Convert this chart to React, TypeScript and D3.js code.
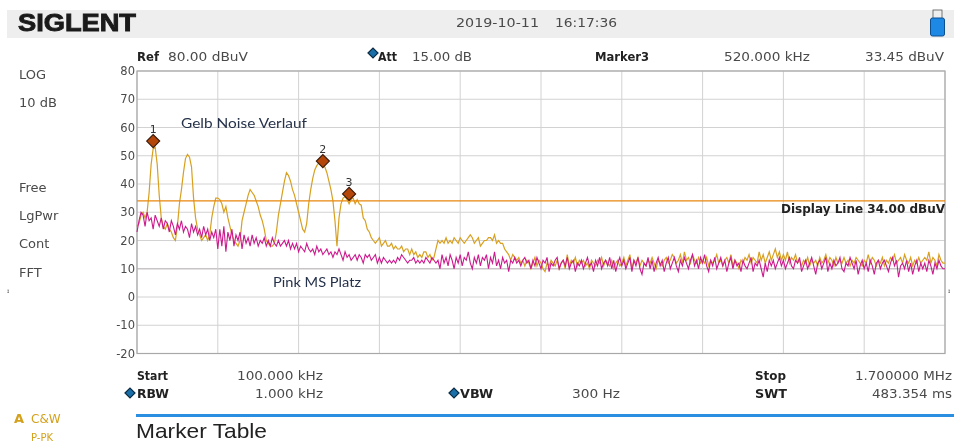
import React from "react";
import * as d3 from "d3";

const W = 954, H = 444;
const startKHz = 100, stopKHz = 1700, stepKHz = 4;
const levelTicks = [80, 70, 60, 50, 40, 30, 20, 10, 0, -10, -20];
const displayLine = 34;

const yellowTrace = [
  25,26,29,30,28,30,37,47,52.5,53,
  47,36,28,25,24,26,24,23,21,20,
  25,33,38,44,49,50.5,49.5,46,35,28,
  24,22,20,21,22,20,22,28,32,35,
  35,34.5,33,30,32,28,25,22,20,19,
  18,20,27,30,33,36,38,37,36,34,
  32,29,27,24,20,19,18,18,19,23,
  29,33,37,41,44,43,41,38,36,33,
  30,27,24,23,26,33,38,42,45,46.5,
  47.5,47.5,47,46,44,41,38,34,27,18,
  28,33,35,35.5,34.5,33,34.5,35,33,34.5,
  33,32.5,28,27,24,23,21,20,19,20,
  21,18,19,20,18,18,19,17,18,17,
  17,18,16,17,17,15,17,15,16,14,
  15,14,16,16,14,15,13,14,17,20,
  19,20,19,21,19,20,19,21,20,19,
  21,20,19,20,21,22,21,19,20,21,
  18,19,20,20,21,21,20,22,19,20,
  19,19,17,16,15,13,15,14,13,14,
  12,13,11,13,12,10,12,14,11,13,
  12,10,9,12,11,13,12,11,13,10,
  12,13,10,15,11,13,12,14,11,13,
  12,13,11,12,10,13,12,11,13,12,
  14,11,13,12,11,13,10,12,13,11,
  12,14,11,13,15,10,13,12,14,11,
  13,12,11,13,12,14,12,10,13,12,
  11,13,14,12,13,15,14,12,13,15,
  12,16,13,14,12,15,13,12,14,12,
  13,12,14,11,13,12,13,15,12,13,
  11,13,14,12,15,11,13,12,10,13,
  12,14,13,15,12,14,13,12,16,13,
  15,12,14,16,13,15,17,14,16,13,
  15,13,16,12,14,13,15,12,13,11,
  13,12,14,11,13,12,13,11,14,12,
  13,15,12,14,13,11,14,12,13,12,
  14,12,13,11,13,12,14,13,12,11,
  13,12,15,12,14,13,11,13,12,14,
  11,13,12,14,13,15,12,13,14,12,
  15,13,12,14,11,13,12,14,12,13,
  14,13,16,12,14,13,11,15,13,12,
  12
];

const pinkTrace = [
  23,27,30,29,25,30,27,28,24,29,
  27,25,28,24,27,26,23,27,25,22,
  26,24,27,23,25,24,21,26,23,25,
  22,24,21,25,22,24,20,23,21,24,
  17,24,18,25,16,23,20,24,18,22,
  20,23,17,22,19,21,18,22,19,21,
  18,20,19,21,18,20,18,21,19,18,
  20,18,19,20,18,20,17,19,17,19,
  16,18,17,16,19,17,16,17,15,18,
  16,17,15,16,17,15,16,14,16,15,
  17,15,13,16,14,15,13,14,15,13,
  15,14,12,15,14,15,13,14,15,12,
  14,12,14,13,12,13,12,13,12,14,
  13,15,14,13,12,13,13,14,12,13,
  12,13,12,14,13,12,14,13,12,13,
  10,15,12,14,11,15,13,10,14,12,
  15,11,14,13,16,12,10,14,12,15,
  11,14,13,15,10,14,12,16,11,13,
  10,14,12,13,9,13,12,14,12,13,
  11,13,14,12,13,10,13,11,14,12,
  10,13,12,14,9,12,11,13,14,10,
  12,13,11,14,10,12,13,9,12,11,
  13,10,12,14,11,12,9,13,11,14,
  10,12,13,11,14,10,13,9,12,14,
  11,13,10,12,14,9,13,11,14,10,
  8,12,11,14,10,13,9,12,14,11,
  13,9,12,14,10,12,14,11,9,13,
  11,14,12,10,13,15,11,13,10,14,
  12,15,11,9,13,11,14,10,12,14,
  11,13,9,12,14,10,13,11,12,9,
  13,11,10,12,14,9,12,11,13,10,
  7,12,9,13,11,13,10,12,14,11,
  13,10,12,14,11,10,13,12,14,9,
  11,13,10,12,14,11,8,12,13,10,
  12,14,9,12,10,13,11,12,14,10,
  9,12,11,14,12,10,13,8,11,13,
  10,12,9,13,11,8,12,13,10,12,
  13,11,9,12,14,11,13,7,11,12,
  10,13,9,12,8,11,13,9,12,10,
  12,9,13,11,8,12,10,13,11,10,
  10
];

const markerFreqs = [132, 468, 520];
const markerLevels = [55.2, 48.1, 36.5];
const markerLabels = ["1", "2", "3"];
const leftLabels = ["LOG", "10 dB", "Free", "LgPwr", "Cont", "FFT"];
const leftLabelY = [79, 107, 192, 220, 248, 277];

const x = d3.scaleLinear().domain([startKHz, stopKHz]).range([137, 945]);
const y = d3.scaleLinear().domain([-20, 80]).range([353.5, 71]);
const freqGrid = d3.range(startKHz, stopKHz + 1, 160);
const traceLine = d3.line<number>().x((_, i) => x(startKHz + i * stepKHz)).y((v) => y(v));

const MONO = "'DejaVu Sans', sans-serif";
const grey = "#4a4a4a";

function Label({ x: px, y: py, width, bold, size = 12, fill, anchor, family, children }: any) {
  return (
    <text
      x={px}
      y={py}
      fontFamily={family || MONO}
      fontSize={size}
      fontWeight={bold ? 700 : 400}
      fill={fill || (bold ? "#222" : grey)}
      textLength={width}
      lengthAdjust={width ? "spacingAndGlyphs" : undefined}
      textAnchor={anchor}
    >
      {children}
    </text>
  );
}

function Diamond({ cx, cy, r = 6, fill = "#1a6fa8", stroke = "#0c2c44" }: any) {
  return <path d={`M${cx - r},${cy}L${cx},${cy - r}L${cx + r},${cy}L${cx},${cy + r}Z`} fill={fill} stroke={stroke} strokeWidth={1.2} />;
}

export default function App() {
  return (
    <svg width={W} height={H} viewBox={`0 0 ${W} ${H}`} style={{ position: "fixed", left: 0, top: 0, background: "#fff", filter: "blur(0.3px)" }}>
      <rect x={7} y={10} width={947} height={28} fill="#eeeeee" />
      <text x={18} y={31} fontFamily="'Liberation Sans', sans-serif" fontWeight={700} fontSize={24} fill="#1a1a1a" stroke="#1a1a1a" strokeWidth={0.9} textLength={118} lengthAdjust="spacingAndGlyphs">SIGLENT</text>
      <Label x={456} y={27} width={83}>2019-10-11</Label>
      <Label x={555} y={27} width={62}>16:17:36</Label>
      <rect x={933} y={10} width={9} height={9} fill="none" stroke="#555" strokeWidth={0.8} />
      <rect x={930.5} y={18} width={14} height={18} rx={2} fill="#1e88e5" stroke="#0d4f8f" />

      <Label x={137} y={61} width={22} bold>Ref</Label>
      <Label x={168} y={61} width={80}>80.00 dBuV</Label>
      <Diamond cx={373} cy={53} r={5} />
      <Label x={378} y={61} width={19} bold>Att</Label>
      <Label x={412} y={61} width={60}>15.00 dB</Label>
      <Label x={595} y={61} width={54} bold>Marker3</Label>
      <Label x={724} y={61} width={86}>520.000 kHz</Label>
      <Label x={865} y={61} width={79}>33.45 dBuV</Label>

      {leftLabels.map((t, i) => (
        <text key={t} x={19} y={leftLabelY[i]} fontFamily={MONO} fontSize={13} fill={grey}>{t}</text>
      ))}
      <text x={7} y={293} fontFamily={MONO} fontSize={6} fill={grey}>ɪ</text>
      <text x={948} y={293} fontFamily={MONO} fontSize={6} fill={grey}>ɪ</text>

      {levelTicks.map((v) => (
        <g key={v}>
          <line x1={x(startKHz)} x2={x(stopKHz)} y1={y(v)} y2={y(v)} stroke={v === 10 ? "#c9c4c8" : "#d2d2d2"} strokeWidth={v === 10 ? 1.6 : 1} />
          <text x={135} y={y(v) + 4} textAnchor="end" fontFamily={MONO} fontSize={11.5} fill={grey}>{v}</text>
        </g>
      ))}
      {freqGrid.map((f) => (
        <line key={f} x1={x(f)} x2={x(f)} y1={71} y2={353.5} stroke="#d2d2d2" strokeWidth={1} />
      ))}
      <rect x={x(startKHz)} y={71} width={x(stopKHz) - x(startKHz)} height={282.5} fill="none" stroke="#a8a8a8" strokeWidth={1.2} />

      <path d={traceLine(yellowTrace) || ""} fill="none" stroke="#d8a020" strokeWidth={1.2} />
      <path d={traceLine(pinkTrace) || ""} fill="none" stroke="#cc1a8e" strokeWidth={1.1} />
      <line x1={x(startKHz)} x2={x(stopKHz)} y1={y(displayLine)} y2={y(displayLine)} stroke="#e8870e" strokeWidth={1.2} />

      <Label x={781} y={213} width={164} bold size={12}>Display Line 34.00 dBuV</Label>
      <text x={181} y={128} fontFamily="Lato, sans-serif" fontSize={14} fill="#26324a" textLength={126} lengthAdjust="spacingAndGlyphs">Gelb Noise Verlauf</text>
      <text x={273} y={287} fontFamily="Lato, sans-serif" fontSize={14} fill="#26324a" textLength={88} lengthAdjust="spacingAndGlyphs">Pink MS Platz</text>

      {markerFreqs.map((f, i) => (
        <g key={f}>
          <Diamond cx={x(f)} cy={y(markerLevels[i])} r={6.5} fill="#b5460a" stroke="#3a1a08" />
          <text x={x(f)} y={y(markerLevels[i]) - 8} textAnchor="middle" fontFamily={MONO} fontSize={11} fill="#333">{markerLabels[i]}</text>
        </g>
      ))}

      <Label x={137} y={380} width={31} bold>Start</Label>
      <Label x={237} y={380} width={86}>100.000 kHz</Label>
      <Label x={755} y={380} width={31} bold>Stop</Label>
      <Label x={855} y={380} width={97}>1.700000 MHz</Label>
      <Diamond cx={130} cy={393} r={5} />
      <Label x={137} y={398} width={32} bold>RBW</Label>
      <Label x={255} y={398} width={68}>1.000 kHz</Label>
      <Diamond cx={454} cy={393} r={5} />
      <Label x={460} y={398} width={33} bold>VBW</Label>
      <Label x={572} y={398} width={48}>300 Hz</Label>
      <Label x={755} y={398} width={32} bold>SWT</Label>
      <Label x={872} y={398} width={80}>483.354 ms</Label>

      <line x1={136} x2={954} y1={415.5} y2={415.5} stroke="#2a8fe0" strokeWidth={3} />
      <text x={136} y={438} fontFamily="'Liberation Sans', sans-serif" fontSize={21} fill="#222" textLength={131} lengthAdjust="spacingAndGlyphs">Marker Table</text>
      <text x={14} y={423} fontFamily={MONO} fontWeight={700} fontSize={13} fill="#d4a11c">A</text>
      <text x={31} y={423} fontFamily={MONO} fontSize={12} fill="#d4a11c">C&amp;W</text>
      <text x={31} y={441} fontFamily={MONO} fontSize={10} fill="#d4a11c">P-PK</text>
    </svg>
  );
}
